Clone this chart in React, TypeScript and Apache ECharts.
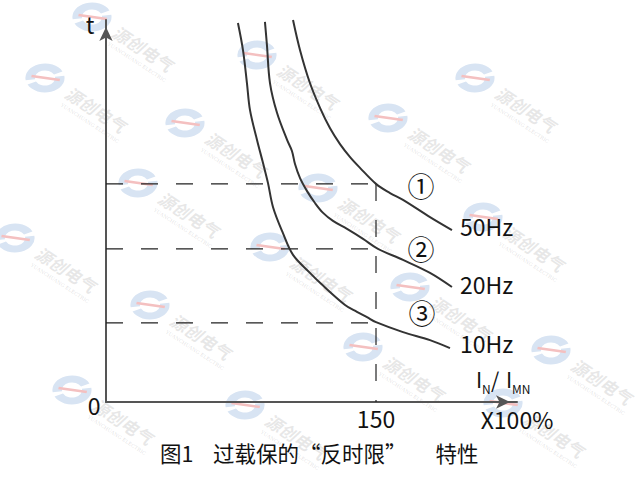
import React, { useEffect, useRef } from "react";
import * as echarts from "echarts";

// Curve ① 50Hz  (x: I_N/I_MN ×100%, t: relative time)
const curve50X = [103.9, 107.8, 113.3, 118.9, 124.4, 130, 135.6, 141.1, 150, 157.8, 165, 180, 192.2];
const curve50T = [100, 92.1, 83.5, 77, 71.7, 67.5, 64.1, 61.3, 57.1, 54.7, 52.9, 48.4, 45];
// Curve ② 20Hz
const curve20X = [88.3, 89.4, 91.1, 95, 100.6, 103.3, 105, 107.8, 111.7, 116.1, 120.6, 126.1, 133.9, 142.8, 151.1, 165, 180, 192.2];
const curve20T = [99.5, 93.5, 83.5, 75.7, 68.6, 65.7, 62.3, 58.6, 55.2, 52.1, 49.5, 47.4, 45.3, 42.7, 40.1, 37.2, 33.8, 30.1];
// Curve ③ 10Hz
const curve10X = [73.3, 76.1, 78.3, 80, 83.9, 87.2, 90, 92.8, 98.3, 103.9, 113.3, 118.9, 132.8, 139.4, 145, 150, 165, 180, 191.1];
const curve10T = [99.2, 92.1, 83.5, 76.4, 68.6, 62.6, 57.3, 51, 44.2, 38.5, 33.8, 31.2, 25.4, 23.6, 22.2, 20.9, 18.3, 16.2, 14.1];

const refCurrent = 150;
const refLevels = [57.1, 40.1, 20.7];
const curveNames = ["①", "②", "③"];
const freqLabels = ["50Hz", "20Hz", "10Hz"];
const xTickLabels = ["0", "150"];
const xMax = 228.33;
const tMax = 100;

const FONT = "Noto Sans CJK SC";

const zip = (xs: number[], ys: number[]) => xs.map((x, i) => [x, ys[i]]);

const wmPos = [
  [92, 17], [45, 78], [257, 55], [185, 123], [475, 78], [388, 118], [138, 183],
  [318, 188], [15, 238], [270, 247], [483, 217], [150, 305], [410, 287],
  [363, 347], [551, 350], [72, 390], [245, 405], [503, 403],
];

function watermark(x: number, y: number) {
  const rot = -0.58;
  return [
    {
      type: "group",
      x,
      y,
      scaleX: 1.35,
      z: 0,
      silent: true,
      children: [
        {
          type: "arc",
          shape: { cx: 0, cy: 0, r: 11, startAngle: Math.PI * 0.95, endAngle: Math.PI * 1.85 },
          style: { stroke: "#d8e4f3", lineWidth: 7, fill: "none" },
        },
        {
          type: "arc",
          shape: { cx: 0, cy: 0, r: 11, startAngle: -Math.PI * 0.05, endAngle: Math.PI * 0.85 },
          style: { stroke: "#d8e4f3", lineWidth: 7, fill: "none" },
        },
        {
          type: "line",
          shape: { x1: -10, y1: -2, x2: 11, y2: 2 },
          style: { stroke: "#f4c0c0", lineWidth: 2.5 },
        },
      ],
    },
    {
      type: "text",
      x: x + 51,
      y: y + 31,
      rotation: rot,
      silent: true,
      z: 0,
      style: {
        text: "源创电气",
        fontFamily: FONT,
        fontSize: 17,
        fontStyle: "italic",
        fontWeight: "bold",
        fill: "rgba(160,160,160,0.25)",
        align: "center",
        verticalAlign: "middle",
      },
    },
    {
      type: "text",
      x: x + 45,
      y: y + 45,
      rotation: rot,
      silent: true,
      z: 0,
      style: {
        text: "YUANCHUANG ELECTRIC",
        fontFamily: "DejaVu Serif",
        fontSize: 5,
        fill: "rgba(160,160,160,0.3)",
        align: "center",
        verticalAlign: "middle",
      },
    },
  ];
}

export default function App() {
  const ref = useRef<HTMLDivElement>(null);
  useEffect(() => {
    if (!ref.current) return;
    const chart = echarts.init(ref.current, undefined, { renderer: "svg" });
    const curveStyle = { color: "#333", width: 2 };
    const dashStyle = { color: "#222", width: 1.2, type: [17, 18] as any };
    const curves = [
      zip(curve50X, curve50T),
      zip(curve20X, curve20T),
      zip(curve10X, curve10T),
    ];
    const series: any[] = curves.map((d, i) => ({
      type: "line",
      name: freqLabels[i],
      data: d,
      symbol: "none",
      smooth: 0.35,
      silent: true,
      clip: false,
      lineStyle: curveStyle,
      z: 3,
    }));
    refLevels.forEach((lv) => {
      series.push({
        type: "line",
        data: [[0, lv], [refCurrent, lv]],
        symbol: "none",
        silent: true,
        lineStyle: dashStyle,
        z: 2,
      });
    });
    series.push({
      type: "line",
      data: [[refCurrent, refLevels[0]], [refCurrent, 0]],
      symbol: "none",
      silent: true,
      lineStyle: { ...dashStyle, type: [17, 19] },
      z: 2,
    });

    const textBase = { fontFamily: FONT, fill: "#111" };
    const labels: any[] = [];
    const circlePos = [[421, 185], [421, 248], [422, 312]];
    const freqPos = [[460, 226], [460, 284], [460, 343]];
    curveNames.forEach((n, i) => {
      labels.push({
        type: "text",
        x: circlePos[i][0],
        y: circlePos[i][1],
        z: 5,
        style: { ...textBase, text: n, fontSize: 27, align: "center", verticalAlign: "middle" },
      });
      labels.push({
        type: "text",
        x: freqPos[i][0],
        y: freqPos[i][1],
        z: 5,
        style: { ...textBase, text: freqLabels[i], fontSize: 23, align: "left", verticalAlign: "middle" },
      });
    });
    labels.push(
      {
        type: "text", x: 90, y: 24, z: 5,
        style: { ...textBase, text: "t", fontSize: 23, align: "center", verticalAlign: "middle" },
      },
      {
        type: "text", x: 94, y: 405, z: 5,
        style: { ...textBase, text: xTickLabels[0], fontSize: 23, align: "center", verticalAlign: "middle" },
      },
      {
        type: "text", x: 517, y: 419, z: 5,
        style: { ...textBase, text: "X100%", fontSize: 23, align: "center", verticalAlign: "middle" },
      },
      {
        type: "text", x: 476, y: 379, z: 5,
        style: { ...textBase, text: "I", fontSize: 21, align: "left", verticalAlign: "middle" },
      },
      {
        type: "text", x: 482, y: 388, z: 5,
        style: { ...textBase, text: "N", fontSize: 12, align: "left", verticalAlign: "middle" },
      },
      {
        type: "text", x: 491, y: 379, z: 5,
        style: { ...textBase, text: "/", fontSize: 21, align: "left", verticalAlign: "middle" },
      },
      {
        type: "text", x: 506, y: 379, z: 5,
        style: { ...textBase, text: "I", fontSize: 21, align: "left", verticalAlign: "middle" },
      },
      {
        type: "text", x: 512, y: 388, z: 5,
        style: { ...textBase, text: "MN", fontSize: 12, align: "left", verticalAlign: "middle" },
      },
      {
        type: "text", x: 160, y: 452, z: 5,
        style: {
          ...textBase,
          text: "{a|图1  }{b|过载保的“反时限” }{c|特性}",
          fontSize: 21.5,
          align: "left",
          verticalAlign: "middle",
          rich: {
            a: { fontFamily: FONT, fontSize: 21.5, fill: "#111", padding: [0, 10, 0, 0] },
            b: { fontFamily: FONT, fontSize: 21.5, fill: "#111", padding: [0, 24, 0, 0] },
            c: { fontFamily: FONT, fontSize: 21.5, fill: "#111" },
          },
        },
      }
    );

    const wm: any[] = [];
    wmPos.forEach(([x, y]) => wm.push(...watermark(x, y)));

    chart.setOption({
      animation: false,
      backgroundColor: "#fff",
      textStyle: { fontFamily: FONT },
      grid: { left: 106, top: 20, width: 411, height: 382 },
      xAxis: {
        type: "value",
        min: 0,
        max: xMax,
        interval: 150,
        splitLine: { show: false },
        axisTick: { show: false },
        axisLine: {
          show: true,
          onZero: false,
          symbol: ["none", "arrow"],
          symbolSize: [10, 14],
          symbolOffset: [0, -7],
          lineStyle: { color: "#555", width: 2 },
        },
        axisLabel: {
          show: true,
          margin: 4,
          fontSize: 23,
          color: "#111",
          fontFamily: FONT,
          formatter: (v: number) => (v === refCurrent ? xTickLabels[1] : ""),
        },
      },
      yAxis: {
        type: "value",
        min: 0,
        max: tMax,
        splitLine: { show: false },
        axisTick: { show: false },
        axisLabel: { show: false },
        axisLine: {
          show: true,
          onZero: false,
          symbol: ["none", "arrow"],
          symbolSize: [10, 14],
          symbolOffset: [0, -7],
          lineStyle: { color: "#555", width: 2 },
        },
      },
      graphic: [...wm, ...labels],
      series,
    });
    return () => chart.dispose();
  }, []);
  return (
    <div
      ref={ref}
      style={{ width: 640, height: 480, position: "fixed", left: 0, top: 0, background: "#fff" }}
    />
  );
}
